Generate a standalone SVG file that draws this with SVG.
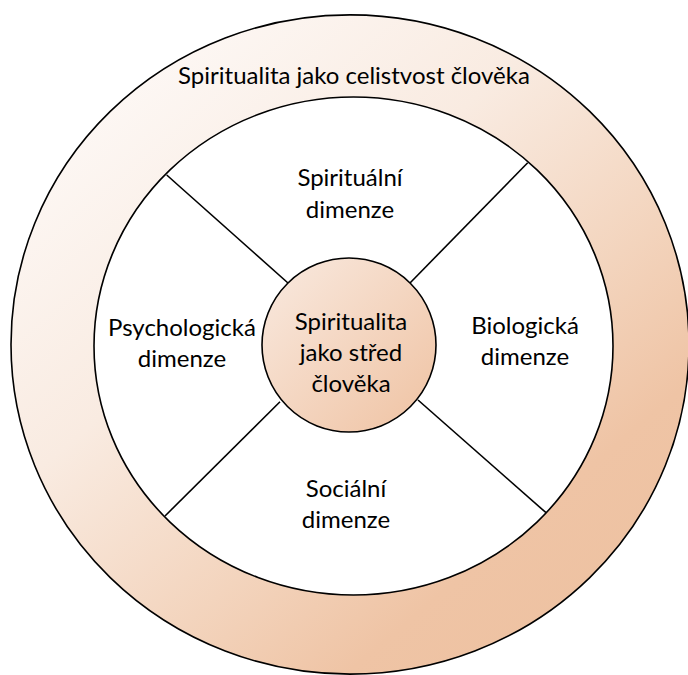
<svg xmlns="http://www.w3.org/2000/svg" width="688" height="675" viewBox="0 0 688 675">
  <style>
    .lbl { font-family: Lato, "Open Sans", sans-serif; font-size: 24px; fill: #000; text-anchor: middle; }
    .edge { stroke: #000; stroke-width: 1.6; }
    .conn { stroke: #000; stroke-width: 1.6; }
  </style>
  <defs>
    <linearGradient id="ringGrad" x1="0.15" y1="0.1" x2="0.85" y2="0.9">
      <stop offset="0" stop-color="#fdf8f5"/>
      <stop offset="0.35" stop-color="#f9ebe1"/>
      <stop offset="0.65" stop-color="#f3d4bd"/>
      <stop offset="0.85" stop-color="#efc4a5"/>
      <stop offset="1" stop-color="#eec2a2"/>
    </linearGradient>
    <linearGradient id="coreGrad" x1="0.1" y1="0.1" x2="0.9" y2="0.9">
      <stop offset="0" stop-color="#f8e6da"/>
      <stop offset="1" stop-color="#f0c6a8"/>
    </linearGradient>
  </defs>

  <g id="outer-ring">
    <path d="M 11 344.5 A 339 329.5 0 1 0 689 344.5 A 339 329.5 0 1 0 11 344.5 Z M 94 346 A 259.5 249 0 1 0 613 346 A 259.5 249 0 1 0 94 346 Z" fill="url(#ringGrad)" fill-rule="evenodd" class="edge"/>
    <text class="lbl" x="354" y="84">Spiritualita jako celistvost člověka</text>
  </g>

  <g id="connectors">
    <line class="conn" x1="166.7" y1="175" x2="288" y2="283"/>
    <line class="conn" x1="527.7" y1="162.7" x2="410" y2="283"/>
    <line class="conn" x1="165" y1="516" x2="280" y2="401.7"/>
    <line class="conn" x1="546" y1="512.7" x2="418" y2="400"/>
  </g>

  <g id="spiritual">
    <text class="lbl" x="350" y="186">Spirituální</text>
    <text class="lbl" x="350" y="218">dimenze</text>
  </g>

  <g id="psychological">
    <text class="lbl" x="182" y="336">Psychologická</text>
    <text class="lbl" x="182" y="367">dimenze</text>
  </g>

  <g id="biological">
    <text class="lbl" x="525" y="334">Biologická</text>
    <text class="lbl" x="525" y="365">dimenze</text>
  </g>

  <g id="social">
    <text class="lbl" x="346" y="497">Sociální</text>
    <text class="lbl" x="346" y="528">dimenze</text>
  </g>

  <g id="center">
    <circle cx="349" cy="345" r="87" fill="url(#coreGrad)" class="edge"/>
    <text class="lbl" x="351" y="330">Spiritualita</text>
    <text class="lbl" x="351" y="361">jako střed</text>
    <text class="lbl" x="351" y="392">člověka</text>
  </g>
</svg>
